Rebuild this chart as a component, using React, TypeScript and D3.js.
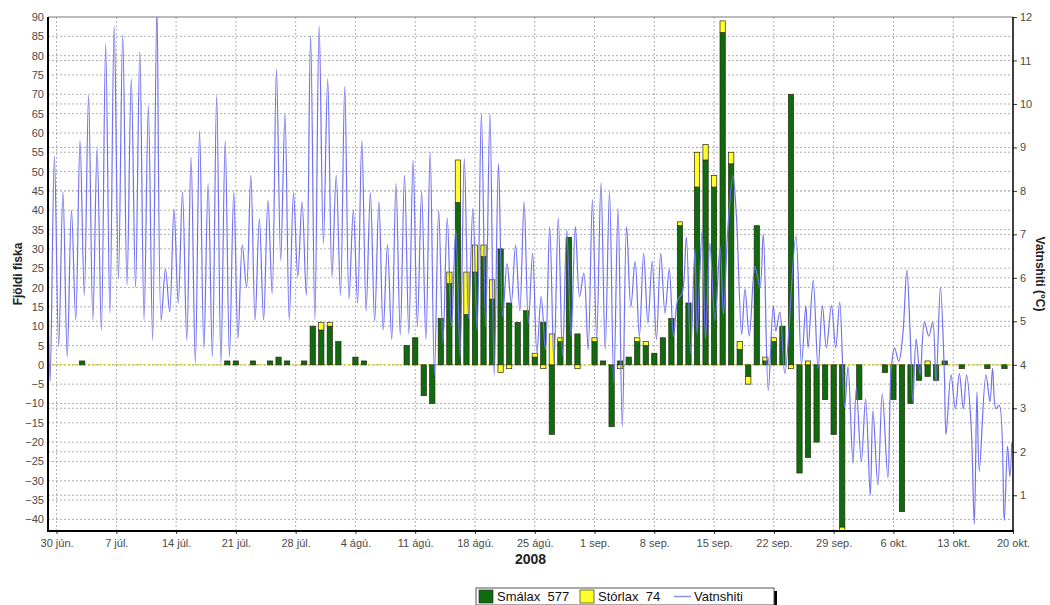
import { useRef, useEffect } from 'react'
import * as d3 from 'd3'

// days counted from 30 jún. 2008
const catchDay = [3,20,21,23,25,26,27,29,30,31,32,33,35,36,41,42,43,44,45,46,47,48,49,50,51,52,53,54,55,56,57,58,59,60,61,63,64,65,66,67,68,69,70,71,72,73,74,75,76,77,78,79,80,81,82,83,84,85,86,87,88,89,90,91,92,94,97,98,99,100,101,102,103,104,106,109,111]
const smalax = [1,1,1,1,1,2,1,1,10,9,10,6,2,1,5,7,-8,-10,12,21,42,13,24,28,17,30,16,11,14,2,11,-18,6,33,8,6,1,-16,1,2,6,5,3,7,12,36,16,46,53,46,86,52,4,-3,36,1,6,10,70,-28,-24,-20,-9,-18,-42,-9,-2,-9,-38,-10,-4,-3,-4,1,-1,-1,-1]
const storlax = [0,0,0,0,0,0,0,0,0,2,1,0,0,0,0,0,0,0,0,3,11,11,7,3,5,-2,-1,0,0,1,-1,8,1,0,-1,1,0,0,-1,0,1,1,0,0,0,1,0,9,4,3,3,3,2,-2,0,1,1,0,-1,0,1,0,0,0,-1,0,0,0,0,0,0,1,0,0,0,0,0]

const xTickLabels = ['30 jún.','7 júl.','14 júl.','21 júl.','28 júl.','4 ágú.','11 ágú.','18 ágú.','25 ágú.','1 sep.','8 sep.','15 sep.','22 sep.','29 sep.','6 okt.','13 okt.','20 okt.']
const legendLabels = ['Smálax  577', 'Stórlax  74', 'Vatnshiti']

// water temperature: [days from 30 jún., °C]
const tempReadings: [number, number][] = [
  [-1,5.9],[-0.75,3.62],[-0.25,8.80],[0.25,4.42],[0.75,7.97],[1.25,4.19],[1.75,7.56],[2.25,5.03],[2.75,9.16],
  [3.25,5.60],[3.75,10.20],[4.25,5.03],[4.75,8.98],[5.25,4.80],[5.75,11.38],[6.25,5.18],[6.75,11.79],
  [7.25,5.98],[7.75,11.59],[8.25,5.83],[8.75,10.58],[9.25,5.78],[9.75,11.20],[10.25,5.03],[10.75,9.96],
  [11.25,4.57],[11.75,12.18],[12.25,5.03],[12.75,6.20],[13.25,5.22],[13.75,7.59],[14.25,5.42],[14.75,7.97],
  [15.25,4.57],[15.75,8.78],[16.25,4.04],[16.75,9.38],[17.25,4.38],[17.75,8.17],[18.25,4.19],[18.75,10.20],
  [19.25,4.04],[19.75,9.16],[20.25,4.19],[20.75,7.96],[21.25,4.61],[21.75,6.76],[22.25,5.78],[22.75,8.36],
  [23.25,5.03],[23.75,7.36],[24.25,5.03],[24.75,7.79],[25.25,5.64],[25.75,10.79],[26.25,6.40],[26.75,9.78],
  [27.25,5.03],[27.75,7.96],[28.25,6.03],[28.75,7.75],[29.25,5.60],[29.75,11.58],[30.25,5.03],[30.75,11.79],
  [31.25,6.79],[31.75,10.58],[32.25,6.03],[32.75,8.36],[33.25,5.60],[33.75,10.40],[34.25,5.51],[34.75,7.56],
  [35.25,5.42],[35.75,9.16],[36.25,5.24],[36.75,7.96],[37.25,5.00],[37.75,7.75],[38.25,4.80],[38.75,6.76],
  [39.25,4.58],[39.75,8.17],[40.25,4.69],[40.75,8.36],[41.25,4.71],[41.75,8.71],[42.25,4.89],[42.75,7.98],
  [43.25,4.58],[43.75,8.89],[44.25,3.77],[44.75,7.56],[45.25,4.50],[45.75,7.38],[46.25,4.88],[46.75,7.11],
  [47.25,4.19],[47.75,8.75],[48.25,5.07],[48.75,7.60],[49.25,4.80],[49.75,9.78],[50.25,4.88],[50.75,9.78],
  [51.25,3.77],[51.75,8.62],[52.25,5.11],[52.75,6.33],[53.25,5.42],[53.75,6.76],[54.25,5.24],[54.75,7.75],
  [55.25,4.96],[55.75,6.57],[56.25,4.27],[56.75,5.57],[57.25,4.35],[57.75,7.18],[58.25,4.04],[58.75,7.38],
  [59.25,4.20],[59.75,7.11],[60.25,4.65],[60.75,7.18],[61.25,5.57],[61.75,6.11],[62.25,4.35],[62.75,7.80],
  [63.25,4.58],[63.75,8.18],[64.25,4.35],[64.75,7.98],[65.25,3.58],[65.75,7.60],[66.25,2.58],[66.75,7.18],
  [67.25,5.33],[67.75,6.38],[68.25,4.65],[68.75,6.57],[69.25,4.96],[69.75,6.38],[70.25,4.58],[70.75,6.57],
  [71.25,5.19],[71.75,6.20],[72.25,4.65],[72.75,5.50],[73.25,5.64],[73.75,6.93],
  [74.25,4.27],[74.75,6.67],[75.0,4.71],[75.6,7.08],[76.0,4.59],[76.5,6.80],[77.1,5.01],[77.7,6.72],
  [78.1,5.16],[78.6,7.11],[79.2,8.36],[79.6,7.47],[80.23,4.70],[80.62,5.75],[81.12,4.66],[81.79,6.26],
  [82.37,5.78],[82.76,7.00],[83.34,3.41],[83.93,5.36],[84.24,4.78],[84.70,5.21],[85.29,3.80],[86.57,6.96],
  [87.23,4.00],[87.74,5.36],[88.01,4.39],[88.60,5.95],[89.18,3.92],[89.68,5.36],[90.15,4.39],[90.74,5.36],
  [91.24,4.39],[91.71,5.44],[92.29,3.02],[92.68,3.96],[93.26,1.74],[93.65,3.47],[94.24,1.78],[94.74,3.22],
  [95.29,1.00],[95.60,2.95],[96.18,1.24],[96.69,3.34],[97.35,1.40],[97.74,3.92],[98.13,4.39],[98.63,4.08],
  [99.10,4.70],[99.57,6.18],[99.96,4.70],[100.27,3.15],[100.66,4.59],[101.12,3.77],[101.63,4.98],[102.14,4.66],
  [102.60,4.98],[102.99,3.61],[103.50,5.78],[103.96,3.82],[104.16,2.40],[104.74,3.77],[105.25,2.99],[105.72,3.80],
  [106.18,2.99],[106.57,3.77],[107.08,2.68],[107.47,0.34],[107.78,3.38],[108.05,1.55],[108.83,3.77],[109.30,3.15],
  [109.61,3.92],[110.0,2.99],[110.39,3.07],[110.97,0.42],[111.36,2.13],[111.63,1.43],[111.86,2.22]
]

const W = 1050
const H = 605
const margin = { top: 17, right: 37, bottom: 74, left: 48 }
const fishMin = -43
const fishMax = 90
const tempAtZero = 4
const fishPerDegree = 11.25
const font = 'Liberation Sans, Arial, sans-serif'

const dayToDate = (d: number) => new Date(Date.UTC(2008, 5, 30) + d * 864e5)

const App = () => {
  const chartRef = useRef<SVGSVGElement>(null)

  useEffect(() => {
    drawChart()
  }, [])

  const drawChart = () => {
    const svg = d3.select(chartRef.current)
    svg.selectAll('*').remove()
    const left = margin.left
    const right = W - margin.right
    const top = margin.top
    const bottom = H - margin.bottom

    const x = d3.scaleUtc().domain([dayToDate(-1), dayToDate(112)]).range([left, right])
    const y = d3.scaleLinear().domain([fishMin, fishMax]).range([bottom, top])
    const yT = d3.scaleLinear()
      .domain([tempAtZero + fishMin / fishPerDegree, tempAtZero + fishMax / fishPerDegree])
      .range([bottom, top])

    svg.append('rect').attr('width', W).attr('height', H).attr('fill', '#fff')

    svg.append('defs').append('clipPath').attr('id', 'plot')
      .append('rect').attr('x', left).attr('y', top).attr('width', right - left).attr('height', bottom - top)

    // grid
    const grid = svg.append('g').attr('stroke', '#b0b0b0').attr('stroke-dasharray', '2,2').attr('stroke-width', 1)
    d3.range(-40, 90, 5).forEach((v) => {
      grid.append('line').attr('x1', left).attr('x2', right).attr('y1', y(v)).attr('y2', y(v))
    })
    d3.range(1, 12).forEach((v) => {
      grid.append('line').attr('x1', left).attr('x2', right).attr('y1', yT(v)).attr('y2', yT(v))
    })
    const xTicks = xTickLabels.map((_, i) => dayToDate(i * 7))
    xTicks.slice(0, -1).forEach((t) => {
      grid.append('line').attr('x1', x(t)).attr('x2', x(t)).attr('y1', top).attr('y2', bottom)
    })

    // bars
    const table = catchDay.map((d, i) => ({ day: d, smalax: smalax[i], storlax: storlax[i] }))
    const series = d3.stack<any>().keys(['smalax', 'storlax']).offset(d3.stackOffsetDiverging)(table)
    const colors = ['#0e6b0e', '#ffff2a']
    const barW = (x(dayToDate(1)) - x(dayToDate(0))) * 0.62

    const plot = svg.append('g').attr('clip-path', 'url(#plot)')

    plot.append('line')
      .attr('x1', left).attr('x2', right).attr('y1', y(0)).attr('y2', y(0))
      .attr('stroke', '#d8d800').attr('stroke-dasharray', '3,2').attr('stroke-width', 1)

    series.forEach((s, k) => {
      plot.append('g').selectAll('rect')
        .data(s.filter((p) => p[1] !== p[0]))
        .enter().append('rect')
        .attr('x', (p) => x(dayToDate(p.data.day)) - barW / 2)
        .attr('y', (p) => y(Math.max(p[0], p[1])))
        .attr('width', barW)
        .attr('height', (p) => Math.abs(y(p[0]) - y(p[1])))
        .attr('fill', colors[k])
        .attr('stroke', '#2a2a10')
        .attr('stroke-width', 0.7)
    })

    // temperature line
    const line = d3.line<[number, number]>()
      .x((d) => x(dayToDate(d[0])))
      .y((d) => yT(d[1]))
      .curve(d3.curveCatmullRom.alpha(0.5))
    plot.append('path')
      .datum(tempReadings)
      .attr('d', line)
      .attr('fill', 'none')
      .attr('stroke', '#7272f0')
      .attr('stroke-width', 1.2)

    // frame
    svg.append('line').attr('x1', left).attr('x2', right).attr('y1', top).attr('y2', top)
      .attr('stroke', '#777').attr('stroke-width', 1)

    const axisStyle = (g: any) => {
      g.select('.domain').remove()
      g.selectAll('text').attr('font-family', font).attr('font-size', 11).attr('fill', '#4a4a4a')
      g.selectAll('line').attr('stroke', '#333')
    }

    svg.append('g')
      .attr('transform', `translate(${left},0)`)
      .call(d3.axisLeft(y).tickValues(d3.range(-40, 91, 5)).tickSize(0).tickPadding(4))
      .call(axisStyle)

    svg.append('g')
      .attr('transform', `translate(${right},0)`)
      .call(d3.axisRight(yT).tickValues(d3.range(1, 13)).tickSize(4).tickPadding(3))
      .call(axisStyle)

    svg.append('g')
      .attr('transform', `translate(0,${bottom})`)
      .call(d3.axisBottom(x).tickValues(xTicks).tickSize(3).tickPadding(5)
        .tickFormat((_, i) => xTickLabels[i]))
      .call(axisStyle)

    svg.append('line').attr('x1', left).attr('x2', left).attr('y1', top).attr('y2', bottom + 1)
      .attr('stroke', '#000').attr('stroke-width', 2)
    svg.append('line').attr('x1', left).attr('x2', right + 1).attr('y1', bottom).attr('y2', bottom)
      .attr('stroke', '#000').attr('stroke-width', 2)
    svg.append('line').attr('x1', right).attr('x2', right).attr('y1', top).attr('y2', bottom)
      .attr('stroke', '#000').attr('stroke-width', 1.5)

    // titles
    svg.append('text')
      .attr('x', (left + right) / 2).attr('y', 564)
      .attr('text-anchor', 'middle').attr('font-family', font)
      .attr('font-size', 14).attr('font-weight', 'bold').attr('fill', '#222')
      .text('2008')
    svg.append('text')
      .attr('transform', `translate(22,${(top + bottom) / 2}) rotate(-90)`)
      .attr('text-anchor', 'middle').attr('font-family', font)
      .attr('font-size', 12).attr('font-weight', 'bold').attr('fill', '#222')
      .text('Fjöldi fiska')
    svg.append('text')
      .attr('transform', `translate(1036,${(top + bottom) / 2}) rotate(90)`)
      .attr('text-anchor', 'middle').attr('font-family', font)
      .attr('font-size', 12).attr('font-weight', 'bold').attr('fill', '#222')
      .text('Vatnshiti (°C)')

    // legend
    const lg = svg.append('g').attr('font-family', font).attr('font-size', 13)
    lg.append('rect').attr('x', 479).attr('y', 591).attr('width', 298).attr('height', 17).attr('fill', '#000')
    lg.append('rect').attr('x', 476).attr('y', 588).attr('width', 298).attr('height', 17)
      .attr('fill', '#fff').attr('stroke', '#555').attr('stroke-width', 1)
    lg.append('rect').attr('x', 479).attr('y', 590).attr('width', 14).attr('height', 13)
      .attr('fill', colors[0]).attr('stroke', '#333').attr('stroke-width', 0.7)
    lg.append('text').attr('x', 497).attr('y', 601).attr('fill', '#111').text(legendLabels[0])
      .attr('xml:space', 'preserve')
    lg.append('rect').attr('x', 580).attr('y', 590).attr('width', 14).attr('height', 13)
      .attr('fill', colors[1]).attr('stroke', '#333').attr('stroke-width', 0.7)
    lg.append('text').attr('x', 598).attr('y', 601).attr('fill', '#111').text(legendLabels[1])
      .attr('xml:space', 'preserve')
    lg.append('line').attr('x1', 674).attr('x2', 691).attr('y1', 596.5).attr('y2', 596.5)
      .attr('stroke', '#9090f0').attr('stroke-width', 1.5)
    lg.append('text').attr('x', 694).attr('y', 601).attr('fill', '#111').text(legendLabels[2])
  }

  return (
    <svg ref={chartRef} width={W} height={H}
      style={{ position: 'absolute', left: 0, top: 0, display: 'block' }}></svg>
  )
}

export default App
